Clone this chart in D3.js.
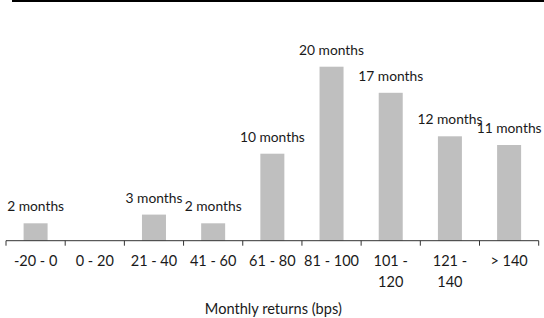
<!DOCTYPE html>
<html><head><meta charset="utf-8">
<script src="https://cdn.jsdelivr.net/npm/d3@7"></script>
<style>
html,body{margin:0;padding:0;background:#fff;}
svg{display:block;}
text{font-family:Lato,"Open Sans",sans-serif;fill:#1a1a1a;}
</style></head><body>
<svg id="chart" width="544" height="318"></svg>
<script>
const categories = ["-20 - 0","0 - 20","21 - 40","41 - 60","61 - 80","81 - 100","101 - 120","121 - 140","> 140"];
const tickLines = [["-20 - 0"],["0 - 20"],["21 - 40"],["41 - 60"],["61 - 80"],["81 - 100"],["101 -","120"],["121 -","140"],["> 140"]];
const months = [2,0,3,2,10,20,17,12,11];
const xTitle = "Monthly returns (bps)";

const svg = d3.select("#chart");
const W = 544, H = 318;
const left = 6, right = 538.7, base = 240.7, top20 = 66.7;

svg.append("rect").attr("x",12).attr("y",0).attr("width",W-12).attr("height",2).attr("fill","#000");

const xb = d3.scaleBand().domain(categories).range([left,right]);
const y = d3.scaleLinear().domain([0,20]).range([base,top20]);

svg.selectAll("rect.bar").data(categories).join("rect").attr("class","bar")
  .attr("x",d=>xb(d)+xb.bandwidth()/2-12).attr("width",24)
  .attr("y",(d,i)=>y(months[i])).attr("height",(d,i)=>base-y(months[i]))
  .attr("fill","#bfbfbf");

svg.selectAll("text.lab").data(categories).join("text").attr("class","lab")
  .filter((d,i)=>months[i]>0)
  .attr("x",d=>xb(d)+xb.bandwidth()/2)
  .attr("y",d=>y(months[categories.indexOf(d)])-12)
  .attr("text-anchor","middle").style("font-size","13.8px")
  .text(d=>months[categories.indexOf(d)]+" months");

// axis
const g = svg.append("g");
g.append("line").attr("x1",left).attr("x2",right).attr("y1",base).attr("y2",base).attr("stroke","#333").attr("stroke-width",1);
const bounds = categories.map(d=>xb(d)).concat([right]);
g.selectAll("line.tk").data(bounds).join("line").attr("class","tk")
  .attr("x1",d=>d).attr("x2",d=>d).attr("y1",base).attr("y2",base+5).attr("stroke","#333");

categories.forEach((d,i)=>{
  const t = svg.append("text").attr("x",xb(d)+xb.bandwidth()/2).attr("y",266)
    .attr("text-anchor","middle").style("font-size","14.5px");
  tickLines[i].forEach((ln,j)=>{
    t.append("tspan").attr("x",xb(d)+xb.bandwidth()/2).attr("dy",j===0?0:20.5).text(ln);
  });
});

svg.append("text").attr("x",(left+right)/2+1).attr("y",314).attr("text-anchor","middle")
  .style("font-size","14.6px").text(xTitle);
</script></body></html>
